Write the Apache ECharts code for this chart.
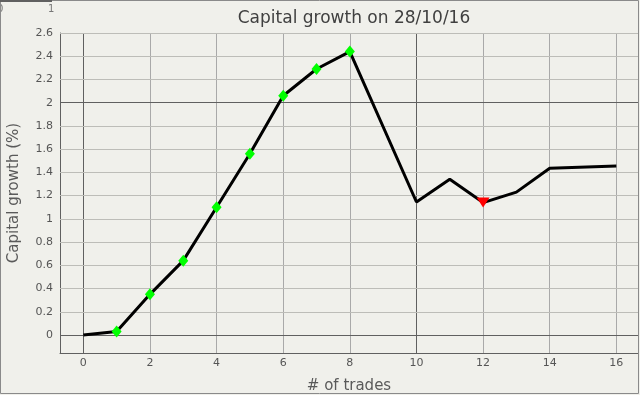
<!DOCTYPE html>
<html><head><meta charset="utf-8">
<script src="https://cdn.jsdelivr.net/npm/echarts@6/dist/echarts.min.js"></script>
<style>html,body{margin:0;padding:0;background:#f0f0eb}#c{width:640px;height:395px}</style>
</head><body><div id="c"></div>
<script>
const trades = [0, 1, 2, 3, 4, 5, 6, 7, 8, 10, 11, 12, 13, 14, 16];
const growth = [0, 0.03, 0.35, 0.64, 1.10, 1.56, 2.06, 2.29, 2.44, 1.145, 1.34, 1.14, 1.23, 1.435, 1.455];
const markerKind = ['none','up','up','up','up','up','up','up','up','none','none','down','none','none','none'];
const xTicks = [0, 2, 4, 6, 8, 10, 12, 14, 16];
const yTicks = [0, 0.2, 0.4, 0.6, 0.8, 1, 1.2, 1.4, 1.6, 1.8, 2, 2.2, 2.4, 2.6];
const darkX = [0, 10];
const darkY = [0, 2];
const titleText = 'Capital growth on 28/10/16';

const font = 'DejaVu Sans';
const data = trades.map((x, i) => {
  const k = markerKind[i];
  if (k === 'up') return {value: [x, growth[i]], symbol: 'diamond', symbolSize: [10, 12], itemStyle: {color: '#00ff00'}};
  if (k === 'down') return {value: [x, growth[i]], symbol: 'triangle', symbolRotate: 180, symbolSize: [13, 10], itemStyle: {color: '#ff0000'}};
  return {value: [x, growth[i]], symbol: 'none'};
});
const gridLines = [];
xTicks.forEach(v => gridLines.push({xAxis: v, lineStyle: {color: darkX.includes(v) ? '#606060' : '#a9a9a9', width: 1, type: 'solid'}}));
yTicks.forEach(v => gridLines.push({yAxis: v, lineStyle: {color: darkY.includes(v) ? '#606060' : '#bdbdb8', width: 1, type: 'solid'}}));

const chart = echarts.init(document.getElementById('c'), null, {renderer: 'canvas'});
chart.setOption({
  backgroundColor: '#f0f0eb',
  animation: false,
  textStyle: {fontFamily: font},
  title: {text: titleText, left: 349, top: 5, textAlign: 'center',
    textStyle: {fontFamily: font, fontSize: 17, fontWeight: 'normal', color: '#404040'}},
  grid: {left: 60, right: 2, top: 33, bottom: 42, containLabel: false, outerBoundsMode: 'none'},
  xAxis: {type: 'value', min: -0.70, max: 16.65,
    name: '# of trades', nameLocation: 'middle', nameGap: 26,
    nameTextStyle: {fontFamily: font, fontSize: 15, color: '#5a5a5a'},
    axisLine: {show: true, onZero: false, lineStyle: {color: '#606060', width: 1}},
    axisTick: {show: false, customValues: xTicks},
    axisLabel: {customValues: xTicks, fontSize: 11, color: '#555', margin: 5, fontFamily: font},
    splitLine: {show: false}},
  yAxis: {type: 'value', min: -0.155, max: 2.6,
    name: 'Capital growth (%)', nameLocation: 'middle', nameGap: 38,
    nameTextStyle: {fontFamily: font, fontSize: 15, color: '#5a5a5a'},
    axisLine: {show: true, onZero: false, lineStyle: {color: '#606060', width: 1}},
    axisTick: {show: false, customValues: yTicks},
    axisLabel: {customValues: yTicks, fontSize: 11, color: '#555', margin: 7, fontFamily: font},
    splitLine: {show: false}},
  graphic: [
    {type: 'rect', shape: {x: 0.5, y: 0.5, width: 638, height: 393}, style: {fill: 'none', stroke: '#8a8a8a', lineWidth: 1}, z: 100},
    {type: 'line', shape: {x1: 0, y1: 1, x2: 52, y2: 1}, style: {stroke: '#606060', lineWidth: 2}, z: 101},
    {type: 'text', x: -3, y: 4, style: {text: '0', font: '10px DejaVu Sans', fill: '#777'}},
    {type: 'text', x: 48, y: 4, style: {text: '1', font: '10px DejaVu Sans', fill: '#777'}}
  ],
  series: [
    {type: 'line', data: [], z: 1, silent: true,
      markLine: {silent: true, symbol: 'none', label: {show: false}, animation: false, data: gridLines}},
    {type: 'line', data: data, z: 5, lineStyle: {color: '#000', width: 3}, showSymbol: true, symbolKeepAspect: false}
  ]
});
</script></body></html>
